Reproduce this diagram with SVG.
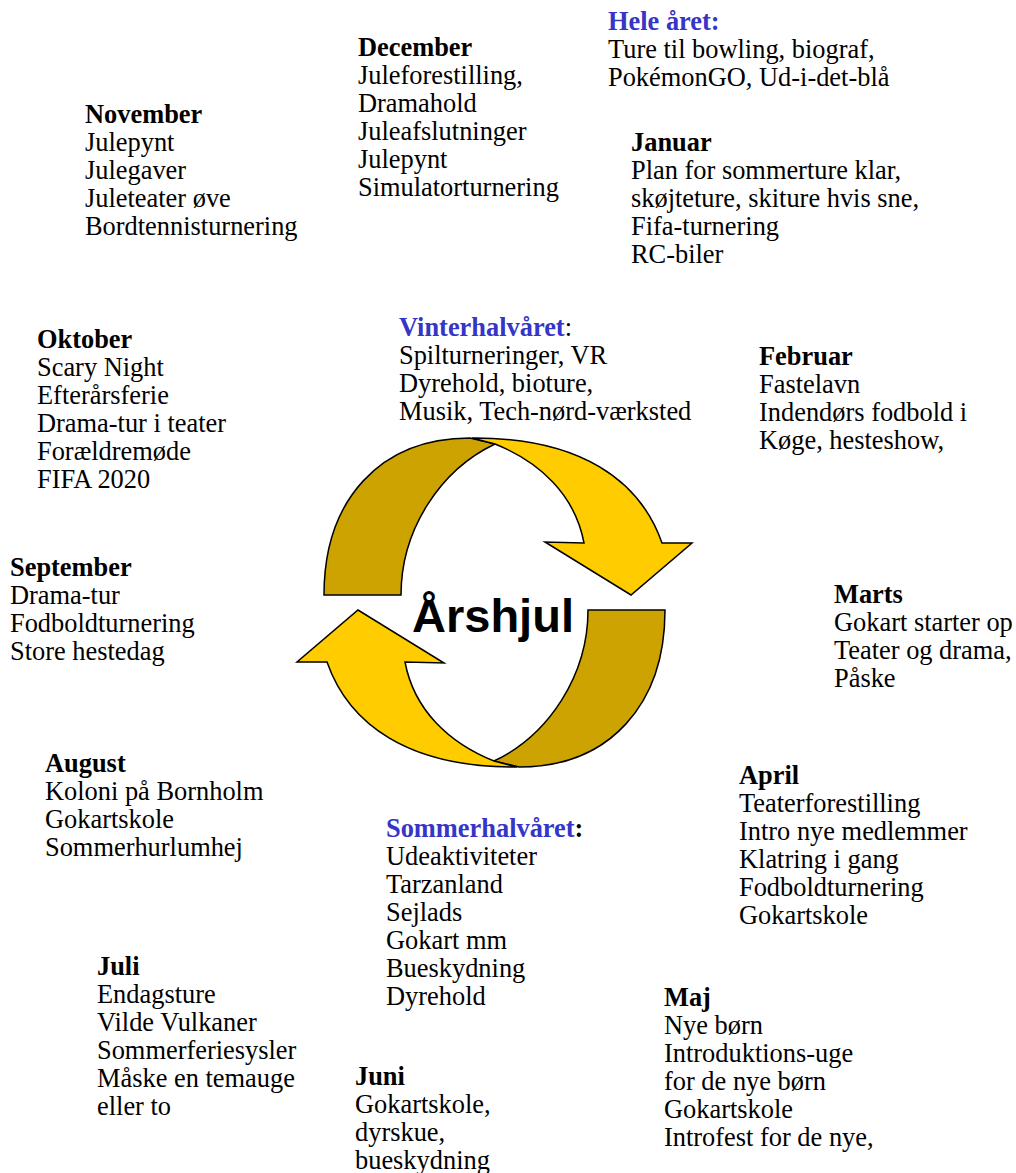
<svg xmlns="http://www.w3.org/2000/svg" width="1016" height="1173" viewBox="0 0 1016 1173">
<style>
text{font-family:"Liberation Serif","Times New Roman",serif;font-size:26.4px;fill:#000}
.h{font-weight:bold}
.b{fill:#3535C8;font-weight:bold}
.dark{fill:#CCA300;stroke:#000;stroke-width:1.5;stroke-linejoin:miter}
.yel{fill:#FFCC00;stroke:#000;stroke-width:1.5;stroke-linejoin:miter}
.title{font-family:"Liberation Sans",Arial,sans-serif;font-weight:bold;font-size:47px}
</style>
<g id="connectors">
<g id="arrow-top">
<path class="dark" d="M324,595 C324,500 380,438 470,438 L495,444 C440,470 401,530 401,595 Z"/>
<path class="yel" d="M472,438 L475,438 C580,438 640,480 662,543 L692,543 L631,595 L545,542 L584,543 C575,495 540,462 495,444 Z"/>
</g>
<g id="arrow-bottom" transform="rotate(180 494.5 602.5)">
<path class="dark" d="M324,595 C324,500 380,438 470,438 L495,444 C440,470 401,530 401,595 Z"/>
<path class="yel" d="M472,438 L475,438 C580,438 640,480 662,543 L692,543 L631,595 L545,542 L584,543 C575,495 540,462 495,444 Z"/>
</g>
</g>
<g id="center"><text class="title" x="493" y="632" text-anchor="middle">Årshjul</text></g>
<g id="hele-aaret">
<text class="b" x="608" y="30">Hele året:</text>
<text x="608" y="58">Ture til bowling, biograf,</text>
<text x="608" y="86">PokémonGO, Ud-i-det-blå</text>
</g>
<g id="december">
<text class="h" x="358" y="56">December</text>
<text x="358" y="84">Juleforestilling,</text>
<text x="358" y="112">Dramahold</text>
<text x="358" y="140">Juleafslutninger</text>
<text x="358" y="168">Julepynt</text>
<text x="358" y="196">Simulatorturnering</text>
</g>
<g id="januar">
<text class="h" x="631" y="151">Januar</text>
<text x="631" y="179">Plan for sommerture klar,</text>
<text x="631" y="207">skøjteture, skiture hvis sne,</text>
<text x="631" y="235">Fifa-turnering</text>
<text x="631" y="263">RC-biler</text>
</g>
<g id="november">
<text class="h" x="85" y="123">November</text>
<text x="85" y="151">Julepynt</text>
<text x="85" y="179">Julegaver</text>
<text x="85" y="207">Juleteater øve</text>
<text x="85" y="235">Bordtennisturnering</text>
</g>
<g id="oktober">
<text class="h" x="37" y="348">Oktober</text>
<text x="37" y="376">Scary Night</text>
<text x="37" y="404">Efterårsferie</text>
<text x="37" y="432">Drama-tur i teater</text>
<text x="37" y="460">Forældremøde</text>
<text x="37" y="488">FIFA 2020</text>
</g>
<g id="vinterhalvaaret">
<text x="399" y="336"><tspan class="b">Vinterhalvåret</tspan>:</text>
<text x="399" y="364">Spilturneringer, VR</text>
<text x="399" y="392">Dyrehold, bioture,</text>
<text x="399" y="420">Musik, Tech-nørd-værksted</text>
</g>
<g id="februar">
<text class="h" x="759" y="365">Februar</text>
<text x="759" y="393">Fastelavn</text>
<text x="759" y="421">Indendørs fodbold i</text>
<text x="759" y="449">Køge, hesteshow,</text>
</g>
<g id="september">
<text class="h" x="10" y="576">September</text>
<text x="10" y="604">Drama-tur</text>
<text x="10" y="632">Fodboldturnering</text>
<text x="10" y="660">Store hestedag</text>
</g>
<g id="marts">
<text class="h" x="834" y="603">Marts</text>
<text x="834" y="631">Gokart starter op</text>
<text x="834" y="659">Teater og drama,</text>
<text x="834" y="687">Påske</text>
</g>
<g id="august">
<text class="h" x="45" y="772">August</text>
<text x="45" y="800">Koloni på Bornholm</text>
<text x="45" y="828">Gokartskole</text>
<text x="45" y="856">Sommerhurlumhej</text>
</g>
<g id="april">
<text class="h" x="739" y="784">April</text>
<text x="739" y="812">Teaterforestilling</text>
<text x="739" y="840">Intro nye medlemmer</text>
<text x="739" y="868">Klatring i gang</text>
<text x="739" y="896">Fodboldturnering</text>
<text x="739" y="924">Gokartskole</text>
</g>
<g id="sommerhalvaaret">
<text x="386" y="837" class="h"><tspan class="b">Sommerhalvåret</tspan>:</text>
<text x="386" y="865">Udeaktiviteter</text>
<text x="386" y="893">Tarzanland</text>
<text x="386" y="921">Sejlads</text>
<text x="386" y="949">Gokart mm</text>
<text x="386" y="977">Bueskydning</text>
<text x="386" y="1005">Dyrehold</text>
</g>
<g id="juli">
<text class="h" x="97" y="975">Juli</text>
<text x="97" y="1003">Endagsture</text>
<text x="97" y="1031">Vilde Vulkaner</text>
<text x="97" y="1059">Sommerferiesysler</text>
<text x="97" y="1087">Måske en temauge</text>
<text x="97" y="1115">eller to</text>
</g>
<g id="maj">
<text class="h" x="664" y="1006">Maj</text>
<text x="664" y="1034">Nye børn</text>
<text x="664" y="1062">Introduktions-uge</text>
<text x="664" y="1090">for de nye børn</text>
<text x="664" y="1118">Gokartskole</text>
<text x="664" y="1146">Introfest for de nye,</text>
</g>
<g id="juni">
<text class="h" x="355" y="1085">Juni</text>
<text x="355" y="1113">Gokartskole,</text>
<text x="355" y="1141">dyrskue,</text>
<text x="355" y="1169">bueskydning</text>
</g>
</svg>
